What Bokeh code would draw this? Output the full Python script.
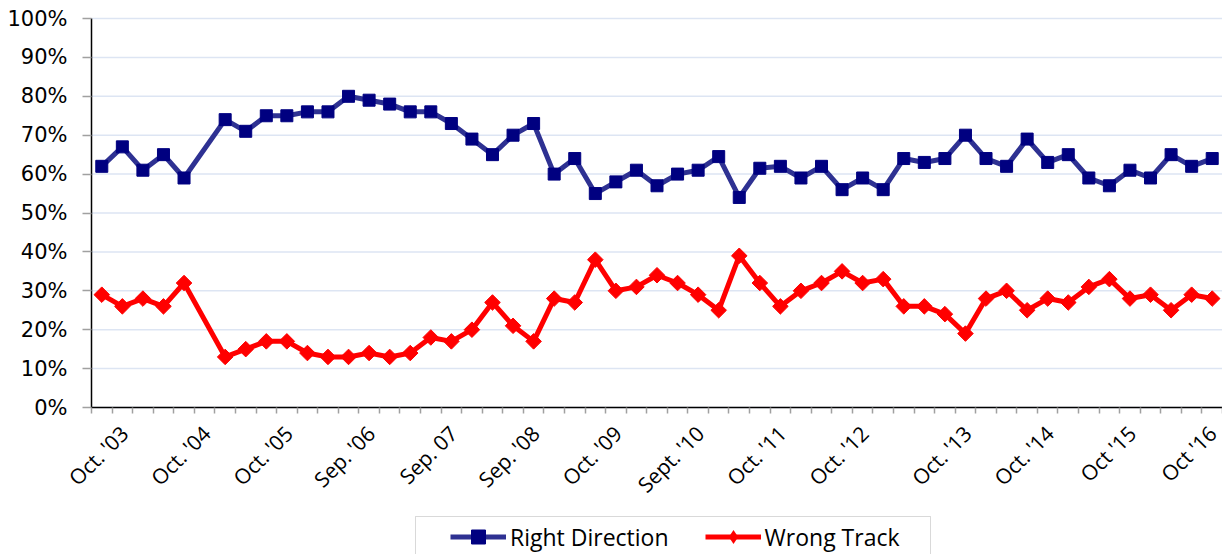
import math
from bokeh.plotting import figure
from bokeh.models import (Range1d, FixedTicker, PrintfTickFormatter, Legend, LegendItem,
                          ColumnDataSource, LinearAxis, BoxAnnotation)
from bokeh.embed import file_html
from bokeh.resources import INLINE

# ---- data ----
n_categories = 55
right_direction = [62, 67, 61, 65, 59, None, 74, 71, 75, 75, 76, 76, 80, 79, 78, 76, 76, 73, 69, 65,
                   70, 73, 60, 64, 55, 58, 61, 57, 60, 61, 64.5, 54, 61.5, 62, 59, 62, 56, 59, 56, 64,
                   63, 64, 70, 64, 62, 69, 63, 65, 59, 57, 61, 59, 65, 62, 64]
wrong_track = [29, 26, 28, 26, 32, None, 13, 15, 17, 17, 14, 13, 13, 14, 13, 14, 18, 17, 20, 27,
               21, 17, 28, 27, 38, 30, 31, 34, 32, 29, 25, 39, 32, 26, 30, 32, 35, 32, 33, 26,
               26, 24, 19, 28, 30, 25, 28, 27, 31, 33, 28, 29, 25, 29, 28]
label_positions = [0, 4, 8, 12, 16, 20, 24, 28, 32, 36, 41, 45, 49, 53]
label_texts = ["Oct. '03", "Oct. '04", "Oct. '05", "Sep. '06", "Sep. 07", "Sep. '08", "Oct. '09",
               "Sept. '10", "Oct. '11", "Oct. '12", "Oct. '13", "Oct. '14", "Oct '15", "Oct '16"]
y_ticks = [0, 10, 20, 30, 40, 50, 60, 70, 80, 90, 100]


def present(vals):
    xs = [i for i, v in enumerate(vals) if v is not None]
    ys = [v for v in vals if v is not None]
    return xs, ys


# layout (pixels): plot area left edge, 0% and 100% lines, scales
W, H = 1222, 554
AX_LEFT, Y0_PX, Y100_PX = 91, 407, 18
PX_PER_CAT = (W - AX_LEFT) / n_categories
PX_PER_PCT = (Y0_PX - Y100_PX) / 100.0


def px_to_x(px):
    return -0.5 + (px - AX_LEFT) / PX_PER_CAT


def py_to_y(py):
    return (Y0_PX - py) / PX_PER_PCT


# the frame covers the whole picture; the axes are fixed at data positions
p = figure(width=W, height=H, output_backend="svg", toolbar_location=None,
           x_range=Range1d(px_to_x(0), px_to_x(W)), y_range=Range1d(py_to_y(H), py_to_y(0)),
           x_axis_location=None, y_axis_location=None,
           min_border_left=0, min_border_right=0, min_border_top=0, min_border_bottom=0)
p.outline_line_color = None
p.background_fill_color = "white"
p.border_fill_color = "white"
p.xgrid.grid_line_color = None
p.ygrid.grid_line_color = None

# horizontal grid lines across the plot area only
p.segment(x0=-0.5, x1=n_categories - 0.5, y0=y_ticks, y1=y_ticks,
          line_color="#dde5f3", line_width=1.5)

# y axis
yaxis = LinearAxis(ticker=FixedTicker(ticks=y_ticks), bounds=(0, 100), fixed_location=-0.5,
                   formatter=PrintfTickFormatter(format="%d%%"))
yaxis.axis_line_color = "black"
yaxis.axis_line_width = 1.5
yaxis.major_tick_line_color = "#a0a0a0"
yaxis.major_tick_line_width = 1.5
yaxis.major_tick_out = 9
yaxis.major_tick_in = 0
yaxis.minor_tick_line_color = None
yaxis.major_label_text_font = "DejaVu Sans"
yaxis.major_label_text_font_size = "21px"
yaxis.major_label_text_color = "black"
yaxis.major_label_standoff = 15
p.add_layout(yaxis, "left")

# x axis, fixed at 0%
offset = 1.1
xaxis = LinearAxis(ticker=FixedTicker(ticks=[i + offset for i in label_positions],
                                      minor_ticks=[i - 0.5 for i in range(n_categories + 1)]),
                   fixed_location=0, bounds=(-0.5, n_categories - 0.5))
xaxis.major_label_overrides = {i + offset: t for i, t in zip(label_positions, label_texts)}
xaxis.major_tick_line_color = None
xaxis.minor_tick_line_color = "#a0a0a0"
xaxis.minor_tick_line_width = 1.5
xaxis.minor_tick_out = 6
xaxis.minor_tick_in = 0
xaxis.axis_line_color = "black"
xaxis.axis_line_width = 1.5
xaxis.major_label_orientation = math.pi / 4
xaxis.major_label_text_font = "Open Sans"
xaxis.major_label_text_font_size = "21px"
xaxis.major_label_text_color = "black"
xaxis.major_label_standoff = 16
p.add_layout(xaxis, "below")

# series
bx, by = present(right_direction)
rx, ry = present(wrong_track)
src_b = ColumnDataSource(dict(x=bx, y=by))
src_r = ColumnDataSource(dict(x=rx, y=ry))

lb = p.line("x", "y", source=src_b, line_color="#2e3192", line_width=5, line_join="round")
mb = p.scatter("x", "y", source=src_b, marker="square", size=12, fill_color="#000080",
               line_color="#000080")
lr = p.line("x", "y", source=src_r, line_color="#ff0000", line_width=5, line_join="round")
mr = p.scatter("x", "y", source=src_r, marker="square", angle=math.pi / 4, size=11,
               fill_color="#ff0000", line_color="#ff0000")
# zero-size diamonds: only used to draw the diamond in the legend
mr_legend = p.scatter("x", "y", source=src_r, marker="diamond", size=0, fill_color="#ff0000",
                      line_color="#ff0000", line_width=0)

# legend frame
legend_box = BoxAnnotation(left=px_to_x(415), right=px_to_x(930), top=py_to_y(516),
                           bottom=py_to_y(H + 20), fill_color="white", fill_alpha=1,
                           line_color="#808080", line_width=1)
p.add_layout(legend_box)

legend = Legend(items=[LegendItem(label="Right Direction", renderers=[lb, mb]),
                       LegendItem(label="Wrong Track", renderers=[lr, mr_legend])],
                orientation="horizontal", location=(450, 0))
legend.label_text_font = "Open Sans"
legend.label_text_font_size = "23px"
legend.label_text_color = "black"
legend.glyph_width = 56
legend.glyph_height = 35
legend.label_standoff = 4
legend.spacing = 36
legend.padding = 0
legend.margin = 0
legend.border_line_color = None
legend.background_fill_alpha = 0
p.add_layout(legend, "center")

open("out.html", "w").write(file_html(p, INLINE))
